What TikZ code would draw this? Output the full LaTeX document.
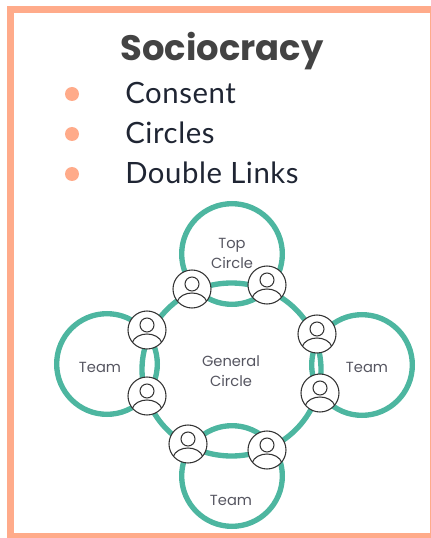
\documentclass[tikz,border=0pt]{standalone}
\usepackage{fontspec}
\usetikzlibrary{shapes.geometric}
\setmainfont{Lato}
\newfontfamily\labelfont{Poppins}
\definecolor{framecol}{HTML}{FFAB8A}
\definecolor{ringcol}{HTML}{4DB6A0}
\definecolor{titlecol}{HTML}{434343}
\definecolor{itemcol}{HTML}{1F2533}
\definecolor{labelcol}{HTML}{555560}
\tikzset{
	ring/.style={circle,draw=ringcol,line width=4pt,inner sep=0pt,outer sep=0pt,minimum size=75.5pt},
	dot/.style={circle,fill=framecol,inner sep=0pt,minimum size=10.5pt},
	item/.style={anchor=west,inner sep=0pt,text=itemcol,font=\fontsize{22}{24}\selectfont\addfontfeature{LetterSpace=2}},
	tag/.style={align=center,text=labelcol,inner sep=0pt,font=\labelfont\fontsize{11}{15}\selectfont},
	avatar/.style={circle,draw=black!80,line width=0.8pt,fill=white,inner sep=0pt,outer sep=0pt,minimum size=28.5pt,
		path picture={
			\draw[black!80,line width=0.8pt,shift={(path picture bounding box.center)}]
				(0,-5) circle (7)
				(-15,13) .. controls (-11,1) and (11,1) .. (15,13);
		}},
}
\begin{document}
\begin{tikzpicture}[x=0.75pt,y=-0.75pt]
	\useasboundingbox (0,0) rectangle (431,538);
	\draw[framecol,line width=5.25pt] (10.5,9.5) rectangle (433,536.5);

	\node[inner sep=0pt,text=titlecol,font=\labelfont\bfseries\fontsize{26.5}{30}\selectfont] (title) at (222,51) {Sociocracy};
	\node[dot] (dota) at (72,94) {};
	\node[dot] (dotb) at (72,134) {};
	\node[dot] (dotc) at (72,174) {};
	\node[item] (consent) at (125,93) {Consent};
	\node[item] (circles) at (125,133) {Circles};
	\node[item] (links) at (125,173) {Double Links};

	% rings
	\node[ring] (topring) at (232,254) {};
	\node[ring] (leftring) at (107,364) {};
	\node[ring] (rightring) at (362,365) {};
	\node[ring] (lowring) at (232,476) {};
	\node[ring,ellipse,minimum width=134.25pt,minimum height=129.75pt] (general) at (231.5,369.5) {};

	\node[tag] (toptag) at (232,253) {Top\\Circle};
	\node[tag] (lefttag) at (100,367) {Team};
	\node[tag] (righttag) at (367,367) {Team};
	\node[tag] (lowtag) at (231,500) {Team};
	\node[tag] (maintag) at (231,371) {General\\Circle};

	% links
	\node[avatar] (ua) at (192,289) {};
	\node[avatar] (ub) at (267,285) {};
	\node[avatar] (uc) at (147,330) {};
	\node[avatar] (ud) at (147,396) {};
	\node[avatar] (ue) at (188,444) {};
	\node[avatar] (uf) at (267,450) {};
	\node[avatar] (ug) at (317,334) {};
	\node[avatar] (uh) at (320,393) {};
\end{tikzpicture}
\end{document}
